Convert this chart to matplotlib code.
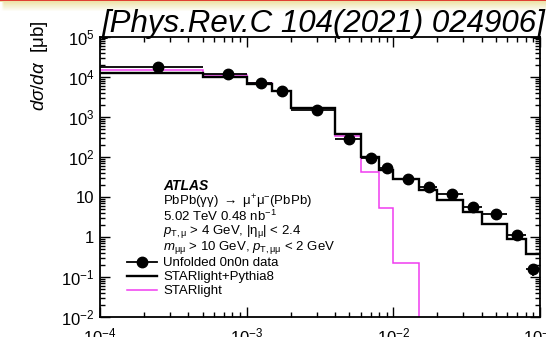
import numpy as np
import matplotlib
matplotlib.use("Agg")
import matplotlib.pyplot as plt
from matplotlib.ticker import FixedLocator, FixedFormatter, LogLocator, NullFormatter
from matplotlib.lines import Line2D

plt.rcParams['font.family'] = ['Liberation Sans', 'DejaVu Sans']
plt.rcParams['mathtext.fontset'] = 'custom'
plt.rcParams['mathtext.rm'] = 'Liberation Sans'
plt.rcParams['mathtext.it'] = 'Liberation Sans:italic'
plt.rcParams['mathtext.bf'] = 'Liberation Sans:bold'

# ---- data ----
bin_edges = [0, 5e-4, 1e-3, 1.5e-3, 2e-3, 4e-3, 6e-3, 8e-3, 1e-2, 1.5e-2,
             2e-2, 3e-2, 4e-2, 6e-2, 8e-2, 1e-1]
data_vals = [1.74e4, 1.21e4, 7.1e3, 4.55e3, 1.52e3, 285, 94, 54, 28.7, 17.5,
             11.7, 5.6, 3.7, 1.12, 0.158]
data_errs = [8e2, 6e2, 4e2, 2.5e2, 80, 18, 7, 4, 2.2, 1.6,
             1.1, 0.7, 0.45, 0.3, 0.055]
starlight_py8 = [1.29e4, 1.02e4, 6.8e3, 4.45e3, 1.72e3, 376, 102, 48, 27.6, 14.7,
                 8.4, 4.3, 2.1, 0.88, 0.38]
starlight = [1.47e4, 1.12e4, 7.0e3, 4.55e3, 1.64e3, 335, 42.8, 5.2, 0.22, 0,
             0, 0, 0, 0, 0]
y_tick_vals = [1e-2, 1e-1, 1, 10, 1e2, 1e3, 1e4, 1e5]
y_tick_labels = ['$10^{-2}$', '$10^{-1}$', '1', '10', '$10^{2}$', '$10^{3}$', '$10^{4}$', '$10^{5}$']
x_tick_vals = [1e-4, 1e-3, 1e-2, 1e-1]
x_tick_labels = ['$10^{-4}$', '$10^{-3}$', '$10^{-2}$', '$10^{-1}$']
text_lines = [r'PbPb(γγ) $\rightarrow$ μ$^{+}$μ$^{-}$(PbPb)',
              '5.02 TeV 0.48 nb$^{-1}$',
              r'$p_{\mathrm{T},\mathrm{\mu}}$ > 4 GeV, |η$_{\mathrm{\mu}}$| < 2.4',
              r'$m_{\mathrm{\mu\mu}}$ > 10 GeV, $p_{\mathrm{T},\mathrm{\mu\mu}}$ < 2 GeV']
legend_labels = ['Unfolded 0n0n data', 'STARlight+Pythia8', 'STARlight']

edges = np.array(bin_edges)
centers = 0.5 * (edges[:-1] + edges[1:])
halfw = 0.5 * (edges[1:] - edges[:-1])

W, H = 546, 337
fig = plt.figure(figsize=(W / 100, H / 100), dpi=100)

# header band
hax = fig.add_axes([0, 1 - 11 / H, 1, 11 / H])
rows = 11
band = np.ones((rows, 200, 3))
for i in range(rows):
    if i < 1:
        band[i, :, :] = [0.88, 0.25, 0.2]
    else:
        t = (i - 1) / (rows - 1)
        band[i, :, :] = np.array([0.93, 0.89, 0.66]) * (1 - t) + np.array([1, 1, 1]) * t
band[2:, :1, :] = 1
hax.imshow(band, aspect='auto', interpolation='bilinear')
hax.axis('off')

ax = fig.add_axes([100 / W, 1 - 317 / H, 440 / W, 280 / H])
ax.set_xscale('log')
ax.set_yscale('log')

mag = '#f03cf0'
ax.stairs(starlight, edges, color=mag, lw=1.1, baseline=None, zorder=2)
ax.stairs(starlight_py8, edges, color='black', lw=1.7, baseline=None, zorder=3)
ax.errorbar(centers, data_vals, xerr=halfw, yerr=data_errs, fmt='o', color='black',
            ms=7.5, lw=1.3, capsize=0, zorder=4)

ax.set_xlim(1e-4, 1e-1)
ax.set_ylim(1e-2, 1e5)

ax.yaxis.set_major_locator(FixedLocator(y_tick_vals))
ax.yaxis.set_major_formatter(FixedFormatter(y_tick_labels))
ax.yaxis.set_minor_locator(LogLocator(base=10, subs=np.arange(2, 10), numticks=20))
ax.yaxis.set_minor_formatter(NullFormatter())
ax.xaxis.set_major_locator(FixedLocator(x_tick_vals))
ax.xaxis.set_major_formatter(FixedFormatter(x_tick_labels))
ax.xaxis.set_minor_locator(LogLocator(base=10, subs=np.arange(2, 10), numticks=20))
ax.xaxis.set_minor_formatter(NullFormatter())

ax.tick_params(which='both', direction='in', top=True, right=True, width=1.0)
ax.tick_params(which='major', length=7.5, labelsize=12, pad=4)
ax.tick_params(axis='x', which='major', pad=7)
ax.tick_params(which='minor', length=3.8)
for s in ax.spines.values():
    s.set_linewidth(1.3)

fig.text(40 / W, 1 - 20 / H, r'$d\sigma/d\alpha$  [μb]', rotation=90, ha='center',
         va='top', fontsize=13.5)

fig.text(545 / W, 1 - 32 / H, '[Phys.Rev.C 104(2021) 024906]', ha='right', va='baseline',
         fontsize=22.5, style='italic')

# annotation block
x0 = 163 / W
fig.text(x0, 1 - 186 / H, 'ATLAS', fontsize=10, style='italic', weight='bold', va='center')
ys = [201.7, 216.7, 231.7, 247.3]
for t, yy in zip(text_lines, ys):
    fig.text(x0, 1 - yy / H, t, fontsize=9.5, va='center')

handles = [Line2D([], [], color='black', marker='o', ms=7.5, lw=1.3),
           Line2D([], [], color='black', lw=1.7), Line2D([], [], color=mag, lw=1.1)]
ax.legend(handles, legend_labels, loc='upper left', frameon=False, fontsize=9.5,
          bbox_to_anchor=((127 - 100) / 440, (317 - 257) / 280),
          labelspacing=0.14, handlelength=2.3, handletextpad=0.45, borderpad=0,
          borderaxespad=0)

fig.savefig('out.png', dpi=100)
